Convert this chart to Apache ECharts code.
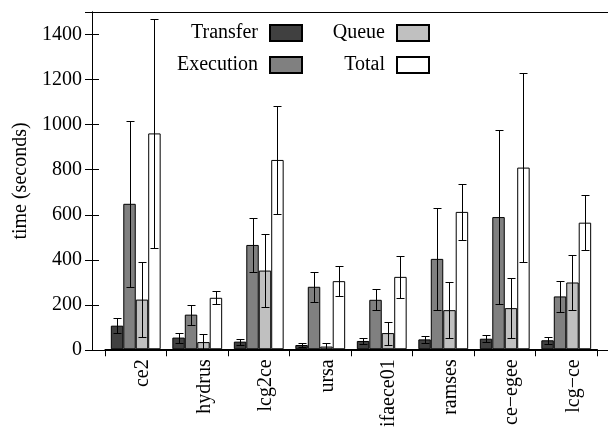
<!DOCTYPE html>
<html>
<head>
<meta charset="utf-8">
<script src="https://cdn.jsdelivr.net/npm/echarts@6/dist/echarts.min.js"></script>
<style>html,body{margin:0;padding:0;background:#fff;}#c{width:608px;height:430px;}</style>
</head>
<body>
<div id="c"></div>
<script>
const categories = ['ce2', 'hydrus', 'lcg2ce', 'ursa', 'ifaece01', 'ramses', 'ce\u2212egee', 'lcg\u2212ce'];
const transfer    = [105, 52, 34, 19, 37, 44, 47, 40];
const transferErr = [33, 22, 13, 10, 15, 14, 16, 15];
const execution    = [647, 154, 464, 278, 220, 402, 588, 235];
const executionErr = [368, 45, 119, 67, 47, 227, 385, 67];
const queue    = [221, 32, 350, 12, 72, 174, 183, 297];
const queueErr = [168, 36, 162, 15, 51, 123, 134, 122];
const total    = [960, 229, 842, 303, 322, 611, 808, 563];
const totalErr = [510, 28, 240, 68, 95, 123, 421, 123];
const yTicks = [0, 200, 400, 600, 800, 1000, 1200, 1400];

const FONT = 'Liberation Serif';
const GAP = 0.19;
const names = ['Transfer', 'Execution', 'Queue', 'Total'];
const colors = ['#404040', '#808080', '#c0c0c0', '#ffffff'];
const means = [transfer, execution, queue, total];
const errs = [transferErr, executionErr, queueErr, totalErr];

const chart = echarts.init(document.getElementById('c'), null, {renderer: 'canvas'});

const barSeries = names.map((n, i) => ({
  name: n, type: 'bar', xAxisIndex: 2, yAxisIndex: 2,
  data: means[i],
  barGap: '0%', barCategoryGap: (GAP * 100) + '%',
  itemStyle: {color: colors[i], borderColor: '#000', borderWidth: 1},
  emphasis: {disabled: true},
  silent: true, animation: false
}));

const errSeries = names.map((n, si) => ({
  name: n + ' err', type: 'custom', xAxisIndex: 2, yAxisIndex: 2,
  data: means[si].map((m, i) => [i, m, errs[si][i]]),
  encode: {x: 0, y: 1},
  z: 5, silent: true, animation: false,
  renderItem: function (params, api) {
    const ci = api.value(0), m = api.value(1), e = api.value(2);
    const catW = api.size([1, 0])[0];
    const bw = catW * (1 - GAP) / 4;
    const cx = Math.round(api.coord([ci, 0])[0] + (si - 1.5) * bw) + 0.5;
    const yt = Math.round(api.coord([ci, m + e])[1]) + 0.5;
    const yb = Math.round(api.coord([ci, Math.max(0, m - e)])[1]) + 0.5;
    const c = 4;
    const st = {stroke: '#000', lineWidth: 1};
    return {type: 'group', children: [
      {type: 'line', shape: {x1: cx, y1: yt, x2: cx, y2: yb}, style: st},
      {type: 'line', shape: {x1: cx - c, y1: yt, x2: cx + c, y2: yt}, style: st},
      {type: 'line', shape: {x1: cx - c, y1: yb, x2: cx + c, y2: yb}, style: st}
    ]};
  }
}));

const legendBase = {
  orient: 'vertical', align: 'right', icon: 'rect', padding: 0,
  itemWidth: 32, itemHeight: 16,
  textStyle: {fontFamily: FONT, fontSize: 20, color: '#000', padding: [0, 7, 0, 0]},
  selectedMode: false
};

const yMin = yTicks[0], yMax = 1500, yInt = yTicks[1] - yTicks[0];

chart.setOption({
  animation: false,
  textStyle: {fontFamily: FONT},
  grid: [
    {left: 92, right: 0, top: 12, bottom: 80, containLabel: false},
    {left: 105, right: 11, top: 12, bottom: 80, containLabel: false}
  ],
  legend: [
    Object.assign({}, legendBase, {data: ['Transfer'], right: 305, top: 23}),
    Object.assign({}, legendBase, {data: ['Execution'], right: 305, top: 55}),
    Object.assign({}, legendBase, {data: ['Queue'], right: 178, top: 23}),
    Object.assign({}, legendBase, {data: ['Total'], right: 178, top: 55})
  ],
  xAxis: [
    {gridIndex: 0, type: 'value', position: 'bottom', min: 0, max: 1,
     axisLine: {show: true, onZero: false, lineStyle: {color: '#000', width: 1}},
     axisTick: {show: false}, axisLabel: {show: false}, splitLine: {show: false}},
    {gridIndex: 0, type: 'value', position: 'top', min: 0, max: 1,
     axisLine: {show: true, onZero: false, lineStyle: {color: '#000', width: 1}},
     axisTick: {show: false}, axisLabel: {show: false}, splitLine: {show: false}},
    {gridIndex: 1, type: 'category', data: categories, position: 'bottom',
     boundaryGap: true,
     axisLine: {show: true, onZero: false, lineStyle: {color: '#000', width: 1}},
     axisTick: {show: true, inside: false, length: 7, lineStyle: {color: '#000'}},
     axisLabel: {rotate: 90, margin: 10, fontFamily: FONT, fontSize: 20, color: '#000',
                 verticalAlign: 'top', lineHeight: 14, interval: 0},
     splitLine: {show: false}}
  ],
  yAxis: [
    {gridIndex: 0, type: 'value', position: 'left', min: yMin, max: yMax, interval: yInt,
     name: 'time (seconds)', nameLocation: 'middle', nameGap: 60,
     nameTextStyle: {fontFamily: FONT, fontSize: 20, color: '#000'},
     axisLine: {show: true, lineStyle: {color: '#000', width: 1}},
     axisTick: {show: true, inside: true, length: 7, lineStyle: {color: '#000'}},
     axisLabel: {margin: 10, fontFamily: FONT, fontSize: 20, color: '#000', showMaxLabel: false,
                 formatter: v => String(v)},
     splitLine: {show: false}},
    {gridIndex: 0, type: 'value', position: 'right', min: yMin, max: yMax, interval: yInt,
     axisLine: {show: true, lineStyle: {color: '#000', width: 1}},
     axisTick: {show: true, inside: true, length: 7, lineStyle: {color: '#000'}},
     axisLabel: {show: false}, splitLine: {show: false}},
    {gridIndex: 1, type: 'value', min: yMin, max: yMax, interval: yInt, show: false,
     splitLine: {show: false}}
  ],
  series: barSeries.concat(errSeries)
});
</script>
</body>
</html>
